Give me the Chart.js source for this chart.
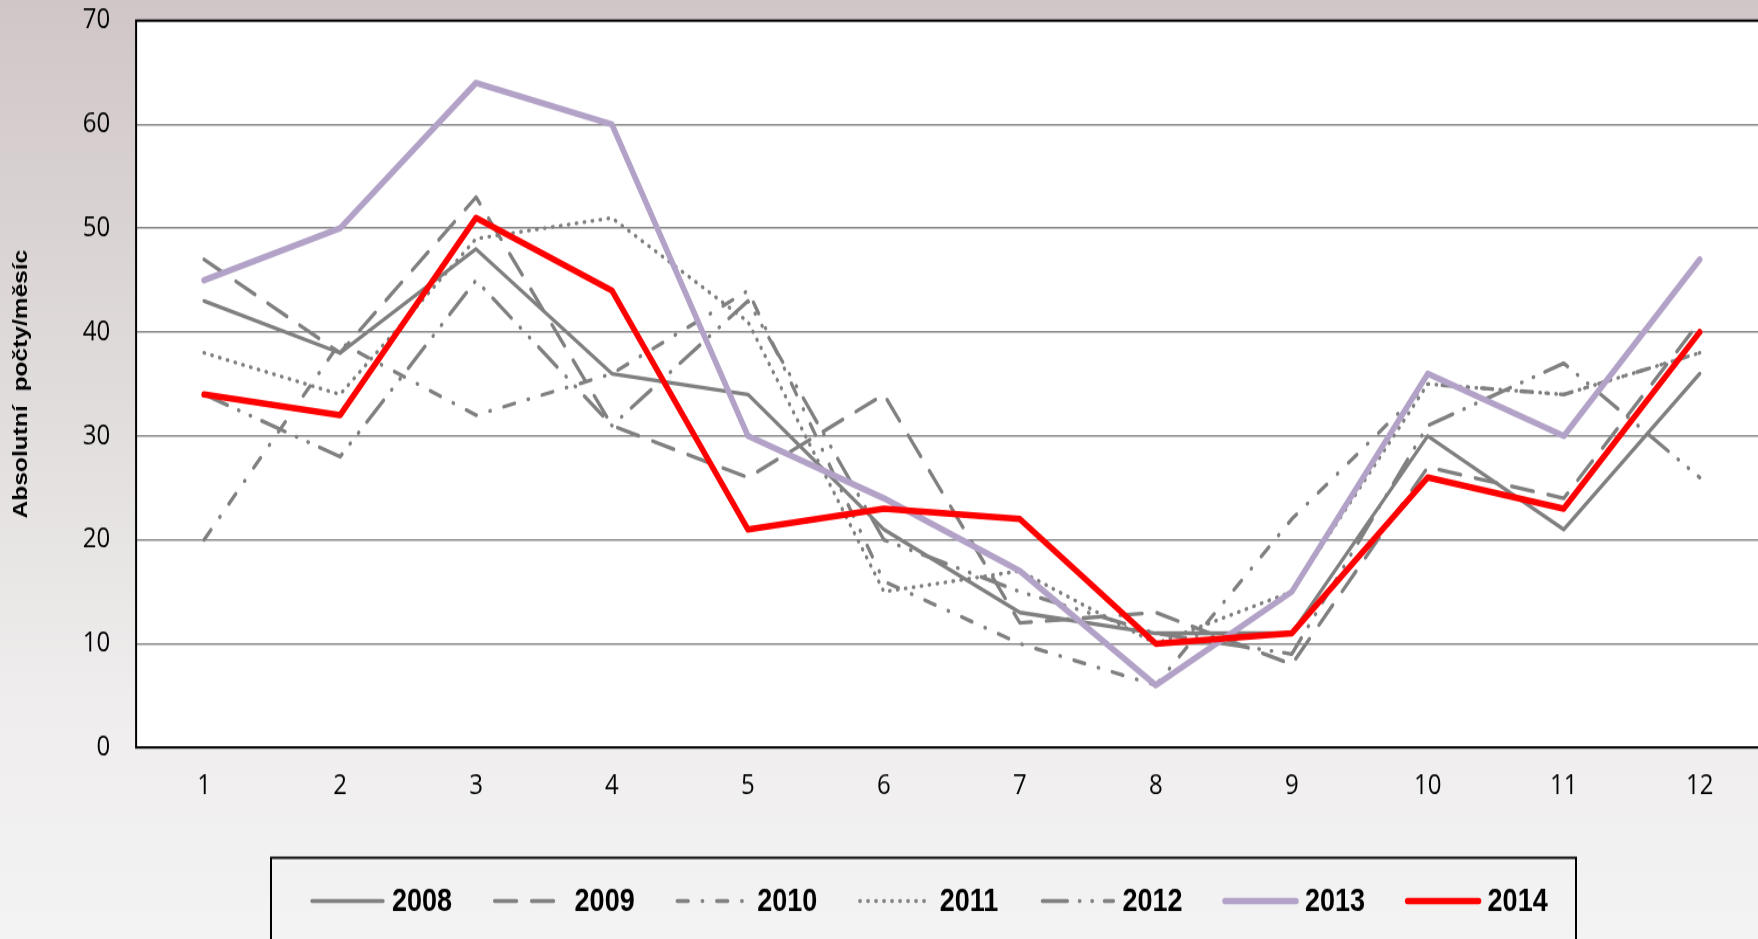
<!DOCTYPE html>
<html><head><meta charset="utf-8">
<script src="https://cdn.jsdelivr.net/npm/chart.js@4.4.1/dist/chart.umd.min.js"></script>
<style>
html,body{margin:0;padding:0;overflow:hidden;width:1758px;height:939px;}
body{background:linear-gradient(to bottom,#d0c6c7 0%,#e0dbdb 40%,#efeded 75%,#f4f3f3 100%);}
#wrap{position:absolute;left:0;top:0;width:1790px;height:803px;transform-origin:0 0;transform:scale(1,1.1694);}
canvas{display:block;}
</style></head><body>
<div id="wrap"><canvas id="c" width="1790" height="803"></canvas></div>
<script>
// ---- data ----
const months = ['1','2','3','4','5','6','7','8','9','10','11','12'];
const yearLabels = ['2008','2009','2010','2011','2012','2013','2014'];
const v2008 = [43,38,48,36,34,21,13,11,11,30,21,36];
const v2009 = [47,38,53,31,26,34,12,13,8,27,24,41];
const v2010 = [20,39,32,36,44,16,10,6,22,35,34,38];
const v2011 = [38,34,49,51,41,15,17,10,15,35,34,38];
const v2012 = [34,28,45,31,43,20,15,11,9,31,37,26];
const v2013 = [45,50,64,60,30,24,17,6,15,36,30,47];
const v2014 = [34,32,51,44,21,23,22,10,11,26,23,40];
const yMin = 0, yMax = 70, yStep = 10;
const yTitle = 'Absolutní  počty/měsíc';

// ---- styles ----
const GRAY = '#808080';
const styles = [
  {borderColor:GRAY, borderWidth:3.3, borderDash:[], order:6},
  {borderColor:GRAY, borderWidth:3.3, borderDash:[22,15], order:5},
  {borderColor:GRAY, borderWidth:3.3, borderDash:[11,14,0.5,14], order:4},
  {borderColor:GRAY, borderWidth:3.3, borderDash:[0.5,7.5], order:3},
  {borderColor:GRAY, borderWidth:3.3, borderDash:[25,12,0.5,12,0.5,12], order:2},
  {borderColor:'#b3a2c7', borderWidth:5.5, borderDash:[], order:1},
  {borderColor:'#ff0000', borderWidth:5.5, borderDash:[], order:0}
];
const series = [v2008,v2009,v2010,v2011,v2012,v2013,v2014];

const datasets = series.map((d,i)=>Object.assign({
  label: yearLabels[i], data: d, fill:false, pointRadius:0, tension:0,
  borderCapStyle:'round', borderJoinStyle:'round'
}, styles[i]));

const H = 803, PLOT_TOP = 17.6, PLOT_BOTTOM = 639.2, PLOT_LEFT = 136.1;

const frame = {
  id:'frame',
  beforeDraw(chart){
    const {ctx, chartArea:a} = chart;
    ctx.save(); ctx.fillStyle='#ffffff';
    ctx.fillRect(a.left,a.top,a.right-a.left,a.bottom-a.top); ctx.restore();
  },
  afterDatasetsDraw(chart){
    const {ctx, chartArea:a} = chart;
    ctx.save(); ctx.strokeStyle='#000'; ctx.lineWidth=2;
    ctx.strokeRect(a.left,a.top,a.right-a.left,a.bottom-a.top); ctx.restore();
  }
};

const legendBox = {
  id:'legendBox',
  afterDraw(chart){
    const ctx = chart.ctx; ctx.save();
    ctx.strokeStyle='#000'; ctx.lineWidth=2;
    ctx.strokeRect(271, 733.5, 1305, 120);
    const y = 770.5;
    chart.data.datasets.forEach((ds,i)=>{
      const x = 310 + i*182.6;
      ctx.save();
      ctx.strokeStyle = ds.borderColor; ctx.lineWidth = ds.borderWidth;
      ctx.setLineDash(ds.borderDash||[]); ctx.lineCap='round';
      ctx.beginPath(); ctx.moveTo(x+2,y); ctx.lineTo(x+73,y); ctx.stroke();
      ctx.restore();
      ctx.fillStyle='#000';
      ctx.font='bold 27px "Liberation Sans", Arial, sans-serif';
      ctx.textBaseline='middle'; ctx.textAlign='left';
      ctx.fillText(ds.label, x+82, y+1.5);
    });
    ctx.restore();
  }
};

function draw(){
  new Chart(document.getElementById('c'), {
    type:'line',
    data:{labels:months, datasets},
    options:{
      responsive:false, animation:false, devicePixelRatio:1,
      layout:{padding:{top:PLOT_TOP, right:22.3, left:0, bottom:0}},
      plugins:{legend:{display:false}, tooltip:{enabled:false}},
      scales:{
        x:{
          offset:true,
          grid:{display:false, drawTicks:false},
          border:{display:false},
          ticks:{color:'#000', font:{family:'"Open Sans", sans-serif', size:24}, padding:19, maxRotation:0, autoSkip:false},
          afterFit(s){ s.height = H - PLOT_BOTTOM; s.paddingLeft = 0; s.paddingRight = 0; }
        },
        y:{
          min:yMin, max:yMax,
          ticks:{stepSize:yStep, color:'#000', font:{family:'"Open Sans", sans-serif', size:24}, padding:26},
          grid:{color:'#878787', lineWidth:1.6, drawTicks:false},
          border:{display:false},
          title:{display:true, text:yTitle, color:'#000', font:{family:'"Liberation Sans", Arial, sans-serif', size:21, weight:'bold'}, padding:{top:9,bottom:0}},
          afterFit(s){ s.width = PLOT_LEFT; s.paddingTop = 0; s.paddingBottom = 0; }
        }
      }
    },
    plugins:[frame, legendBox]
  });
}
Promise.all([
  document.fonts.load('24px "Open Sans"'),
  document.fonts.load('bold 27px "Liberation Sans"')
]).then(draw, draw);
</script>
</body></html>
